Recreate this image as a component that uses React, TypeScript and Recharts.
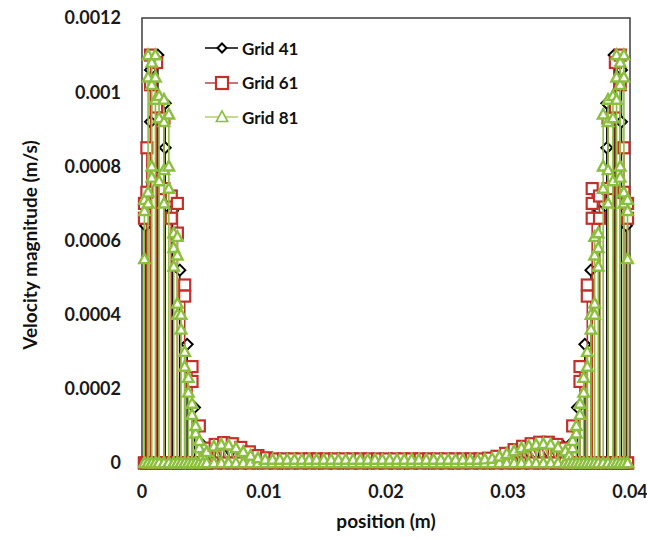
import React from 'react';
import { ScatterChart, Scatter, XAxis, YAxis, ReferenceArea, Legend } from 'recharts';

const xTicks = [0, 0.01, 0.02, 0.03, 0.04];
const yTicks = [0, 0.0002, 0.0004, 0.0006, 0.0008, 0.001, 0.0012];
const seriesNames = ['Grid 41', 'Grid 61', 'Grid 81'];

// each column: [x, values at that x in plotted order]
const grid41: number[][] = [
  [0.0003, 0, 0.00064, 0],
  [0.0007, 0, 0.00092, 0.00106, 0],
  [0.0013, 0, 0.0011, 0],
  [0.0019, 0, 0.00085, 0.00097, 0],
  [0.0025, 0, 0.00068, 0],
  [0.0031, 0, 0.00052, 0],
  [0.0037, 0, 0.00032, 0],
  [0.0043, 0, 0.00015, 0],
  [0.0049, 0, 0.00005, 0],
  [0.0055, 0, 0.000035],
  [0.0065, 0, 0.00005],
  [0.0075, 0, 0.000047],
  [0.0085, 0, 0.000033],
  [0.0095, 0, 0.000018],
  [0.0105, 0, 0.00001],
  [0.0115, 0, 0.00001],
  [0.0125, 0, 0.00001],
  [0.0135, 0, 0.00001],
  [0.0145, 0, 0.00001],
  [0.0155, 0, 0.00001],
  [0.0165, 0, 0.00001],
  [0.0175, 0, 0.00001],
  [0.0185, 0, 0.00001],
  [0.0195, 0, 0.00001],
  [0.0205, 0, 0.00001],
  [0.0215, 0, 0.00001],
  [0.0225, 0, 0.00001],
  [0.0235, 0, 0.00001],
  [0.0245, 0, 0.00001],
  [0.0255, 0, 0.00001],
  [0.0265, 0, 0.00001],
  [0.0275, 0, 0.00001],
  [0.0285, 0, 0.000012],
  [0.0295, 0, 0.00002],
  [0.0305, 0, 0.000033],
  [0.0315, 0, 0.000045],
  [0.0325, 0, 0.000052],
  [0.0335, 0, 0.000054],
  [0.0345, 0, 0.000046, 0],
  [0.0351, 0, 0.00005, 0],
  [0.0357, 0, 0.00015, 0],
  [0.0363, 0, 0.00032, 0],
  [0.0368, 0, 0.00052, 0],
  [0.0375, 0, 0.00068, 0],
  [0.0381, 0, 0.00085, 0.00097, 0],
  [0.0387, 0, 0.0011, 0],
  [0.0393, 0, 0.00092, 0.00106, 0],
  [0.0397, 0, 0.00064, 0],
];

const grid61: number[][] = [
  [0.0002, 0, 0.00066, 0.0007, 0],
  [0.0004, 0, 0.00073, 0.00085, 0],
  [0.0007, 0, 0.00102, 0.0011, 0],
  [0.0012, 0, 0.00108, 0.00096, 0],
  [0.0018, 0, 0.00093, 0.00074, 0],
  [0.0024, 0, 0.00072, 0.00066, 0],
  [0.0029, 0, 0.0007, 0.00062, 0],
  [0.0035, 0, 0.00048, 0.00045, 0],
  [0.0041, 0, 0.00026, 0.00022, 0],
  [0.0047, 0, 0.0001, 0],
  [0.0053, 0, 0.00004, 0],
  [0.006, 0, 0.00005],
  [0.0067, 0, 0.000055],
  [0.0074, 0, 0.000052],
  [0.0081, 0, 0.000042],
  [0.0088, 0, 0.00003],
  [0.0095, 0, 0.00002],
  [0.0102, 0, 0.000014],
  [0.0109, 0, 0.000011],
  [0.0116, 0, 0.000011],
  [0.0123, 0, 0.000011],
  [0.013, 0, 0.000011],
  [0.0137, 0, 0.000011],
  [0.0144, 0, 0.000011],
  [0.0151, 0, 0.000011],
  [0.0158, 0, 0.000011],
  [0.0165, 0, 0.000011],
  [0.0172, 0, 0.000011],
  [0.0179, 0, 0.000011],
  [0.0186, 0, 0.000011],
  [0.0193, 0, 0.000011],
  [0.02, 0, 0.000011],
  [0.0207, 0, 0.000011],
  [0.0214, 0, 0.000011],
  [0.0221, 0, 0.000011],
  [0.0228, 0, 0.000011],
  [0.0235, 0, 0.000011],
  [0.0242, 0, 0.000011],
  [0.0249, 0, 0.000011],
  [0.0256, 0, 0.000011],
  [0.0263, 0, 0.000011],
  [0.027, 0, 0.000011],
  [0.0277, 0, 0.000011],
  [0.0284, 0, 0.000013],
  [0.0291, 0, 0.000018],
  [0.0298, 0, 0.000026],
  [0.0305, 0, 0.000036],
  [0.0312, 0, 0.000045],
  [0.0319, 0, 0.000052],
  [0.0326, 0, 0.000056],
  [0.0333, 0, 0.000056],
  [0.034, 0, 0.00005, 0],
  [0.0347, 0, 0.00004, 0],
  [0.0353, 0, 0.0001, 0],
  [0.0359, 0, 0.00026, 0.00022, 0],
  [0.0365, 0, 0.00048, 0.00045, 0],
  [0.0369, 0, 0.00074, 0.0007, 0.00066, 0],
  [0.0375, 0, 0.00072, 0.00066, 0],
  [0.0382, 0, 0.00093, 0.00074, 0],
  [0.0388, 0, 0.00108, 0.00096, 0],
  [0.0392, 0, 0.00102, 0.0011, 0],
  [0.0395, 0, 0.00073, 0.00085, 0],
  [0.0398, 0, 0.00066, 0.0007, 0],
];

const grid81: number[][] = [
  [0.0002, 0, 0.00055, 0.00068, 0.00071, 0],
  [0.0005, 0, 0.0007, 0.00073, 0.00104, 0.0011, 0],
  [0.0008, 0, 0.00077, 0.0008, 0.00102, 0.00108, 0],
  [0.0011, 0, 0.00098, 0.00104, 0.0011, 0],
  [0.0014, 0, 0.00076, 0.00093, 0.00099, 0],
  [0.0018, 0, 0.0007, 0.00079, 0.00092, 0.00098, 0],
  [0.0022, 0, 0.00074, 0.0008, 0.00094, 0],
  [0.0026, 0, 0.00053, 0.00058, 0.00062, 0],
  [0.0029, 0, 0.0004, 0.00043, 0.00056, 0.00061, 0],
  [0.0032, 0, 0.00036, 0.0004, 0],
  [0.0035, 0, 0.00026, 0.0003, 0],
  [0.0038, 0, 0.00019, 0.00023, 0],
  [0.0041, 0, 0.00013, 0.00016, 0],
  [0.0044, 0, 0.00008, 0.0001, 0],
  [0.0047, 0, 0.00004, 0.00006, 0],
  [0.005, 0, 0.00002, 0],
  [0.0053, 0, 0.00003],
  [0.0059, 0, 0.000045],
  [0.0065, 0, 0.00005],
  [0.0071, 0, 0.000048],
  [0.0077, 0, 0.00004],
  [0.0083, 0, 0.00003],
  [0.0089, 0, 0.00002],
  [0.0095, 0, 0.000013],
  [0.0101, 0, 0.000009],
  [0.0107, 0, 0.000009],
  [0.0113, 0, 0.000009],
  [0.0119, 0, 0.000009],
  [0.0125, 0, 0.000009],
  [0.0131, 0, 0.000009],
  [0.0137, 0, 0.000009],
  [0.0143, 0, 0.000009],
  [0.0149, 0, 0.000009],
  [0.0155, 0, 0.000009],
  [0.0161, 0, 0.000009],
  [0.0167, 0, 0.000009],
  [0.0173, 0, 0.000009],
  [0.0179, 0, 0.000009],
  [0.0185, 0, 0.000009],
  [0.0191, 0, 0.000009],
  [0.0197, 0, 0.000009],
  [0.0203, 0, 0.000009],
  [0.0209, 0, 0.000009],
  [0.0215, 0, 0.000009],
  [0.0221, 0, 0.000009],
  [0.0227, 0, 0.000009],
  [0.0233, 0, 0.000009],
  [0.0239, 0, 0.000009],
  [0.0245, 0, 0.000009],
  [0.0251, 0, 0.000009],
  [0.0257, 0, 0.000009],
  [0.0263, 0, 0.000009],
  [0.0269, 0, 0.000009],
  [0.0275, 0, 0.000009],
  [0.0281, 0, 0.00001],
  [0.0287, 0, 0.000012],
  [0.0293, 0, 0.000018],
  [0.0299, 0, 0.000025],
  [0.0305, 0, 0.000032],
  [0.0311, 0, 0.00004],
  [0.0317, 0, 0.000046],
  [0.0323, 0, 0.00005],
  [0.0329, 0, 0.000052],
  [0.0335, 0, 0.00005],
  [0.0341, 0, 0.000042],
  [0.0347, 0, 0.000032, 0],
  [0.035, 0, 0.00002, 0],
  [0.0353, 0, 0.00004, 0.00006, 0],
  [0.0356, 0, 0.00008, 0.0001, 0],
  [0.0359, 0, 0.00013, 0.00016, 0],
  [0.0362, 0, 0.00019, 0.00023, 0],
  [0.0365, 0, 0.00026, 0.0003, 0],
  [0.0368, 0, 0.00036, 0.0004, 0],
  [0.0371, 0, 0.0004, 0.00043, 0.00056, 0.00061, 0],
  [0.0374, 0, 0.00053, 0.00058, 0.00062, 0],
  [0.0378, 0, 0.00074, 0.0008, 0.00094, 0],
  [0.0382, 0, 0.0007, 0.00079, 0.00092, 0.00098, 0],
  [0.0386, 0, 0.00076, 0.00093, 0.00099, 0],
  [0.0389, 0, 0.00098, 0.00104, 0.0011, 0],
  [0.0392, 0, 0.00077, 0.0008, 0.00102, 0.00108, 0],
  [0.0395, 0, 0.0007, 0.00073, 0.00104, 0.0011, 0],
  [0.0398, 0, 0.00055, 0.00068, 0.00071, 0],
];

const C41 = '#000000';
const C61 = '#C3302C';
const C81 = '#8CBF3F';
const FONT = 'Lato, "Liberation Sans", Arial, sans-serif';

const toPoints = (cols: number[][]) =>
  cols.flatMap(([x, ...vs]) => vs.map((y) => ({ x, y })));

const DiamondMark = ({ cx, cy, r = 5.5 }: any) => (
  <polygon
    points={`${cx},${cy - r} ${cx + r},${cy} ${cx},${cy + r} ${cx - r},${cy}`}
    fill="#fff"
    stroke={C41}
    strokeWidth={2}
  />
);
const SquareMark = ({ cx, cy, r = 5.5 }: any) => (
  <rect x={cx - r} y={cy - r} width={2 * r} height={2 * r} fill="#fff" stroke={C61} strokeWidth={2.2} />
);
const TriangleMark = ({ cx, cy, r = 5.5, sw = 2.4 }: any) => (
  <polygon
    points={`${cx},${cy - r} ${cx + r * 0.95},${cy + r * 0.75} ${cx - r * 0.95},${cy + r * 0.75}`}
    fill="#fff"
    stroke={C81}
    strokeWidth={sw}
  />
);

const legendItems = [
  { name: seriesNames[0], color: C41, Mark: DiamondMark, r: 4.5 },
  { name: seriesNames[1], color: '#B5484A', Mark: SquareMark, r: 6 },
  { name: seriesNames[2], color: '#B7CC6A', Mark: TriangleMark, r: 6 },
];

const LegendContent = () => (
  <div style={{ fontFamily: FONT, fontWeight: 700, fontSize: 17, color: '#111' }}>
    {legendItems.map((it) => (
      <div key={it.name} style={{ display: 'flex', alignItems: 'center', height: 34.5 }}>
        <svg width={35} height={20} style={{ overflow: 'visible' }}>
          <line x1={0} y1={10} x2={33} y2={10} stroke={it.color} strokeWidth={1.5} />
          <it.Mark cx={17} cy={10} r={it.r} sw={1.6} />
        </svg>
        <span style={{ marginLeft: 2 }}>{it.name}</span>
      </div>
    ))}
  </div>
);

const tickStyle = { fill: '#1a1a1a', fontSize: 18, fontWeight: 700, fontFamily: FONT };

export default function App() {
  return (
    <div style={{ position: 'fixed', left: 0, top: 0, width: 647, height: 540, background: '#fff' }}>
      <ScatterChart width={647} height={540} margin={{ top: 18, right: 17, bottom: 0, left: 0 }}>
        <XAxis
          dataKey="x"
          type="number"
          domain={[0, 0.04]}
          ticks={xTicks}
          interval={0}
          tickLine={false}
          axisLine={false}
          tickSize={0}
          tickMargin={22}
          height={77}
          tick={tickStyle}
          label={{
            value: 'position (m)',
            position: 'insideBottom',
            offset: 12,
            fill: '#111',
            fontSize: 19,
            fontWeight: 700,
            fontFamily: FONT,
          }}
        />
        <YAxis
          dataKey="y"
          type="number"
          domain={[0, 0.0012]}
          ticks={yTicks}
          interval={0}
          tickLine={false}
          axisLine={false}
          tickSize={0}
          tickMargin={21}
          width={142}
          tick={tickStyle}
          label={() => (
            <text
              x={29}
              y={245}
              transform="rotate(-90 29 245)"
              textAnchor="middle"
              dominantBaseline="central"
              fill="#111"
              fontSize={19}
              fontWeight={700}
              fontFamily={FONT}
            >
              Velocity magnitude (m/s)
            </text>
          )}
        />
        <ReferenceArea x1={0} x2={0.04} y1={0} y2={0.0012} fill="none" stroke="#3c3c3c" strokeWidth={1.5} />
        <Scatter
          name={seriesNames[0]}
          data={toPoints(grid41)}
          line={{ stroke: C41, strokeWidth: 1.5 }}
          lineType="joint"
          stroke={C41}
          shape={(p: any) => <DiamondMark cx={p.cx} cy={p.cy} />}
          isAnimationActive={false}
        />
        <Scatter
          name={seriesNames[1]}
          data={toPoints(grid61)}
          line={{ stroke: C61, strokeWidth: 1.6 }}
          lineType="joint"
          stroke={C61}
          shape={(p: any) => <SquareMark cx={p.cx} cy={p.cy} />}
          isAnimationActive={false}
        />
        <Scatter
          name={seriesNames[2]}
          data={toPoints(grid81)}
          line={{ stroke: C81, strokeWidth: 1.6 }}
          lineType="joint"
          stroke={C81}
          shape={(p: any) => <TriangleMark cx={p.cx} cy={p.cy} />}
          isAnimationActive={false}
        />
        <Legend
          layout="vertical"
          align="center"
          verticalAlign="middle"
          content={<LegendContent />}
          wrapperStyle={{ left: 205, top: 31, width: 150, height: 110 }}
        />
      </ScatterChart>
    </div>
  );
}
